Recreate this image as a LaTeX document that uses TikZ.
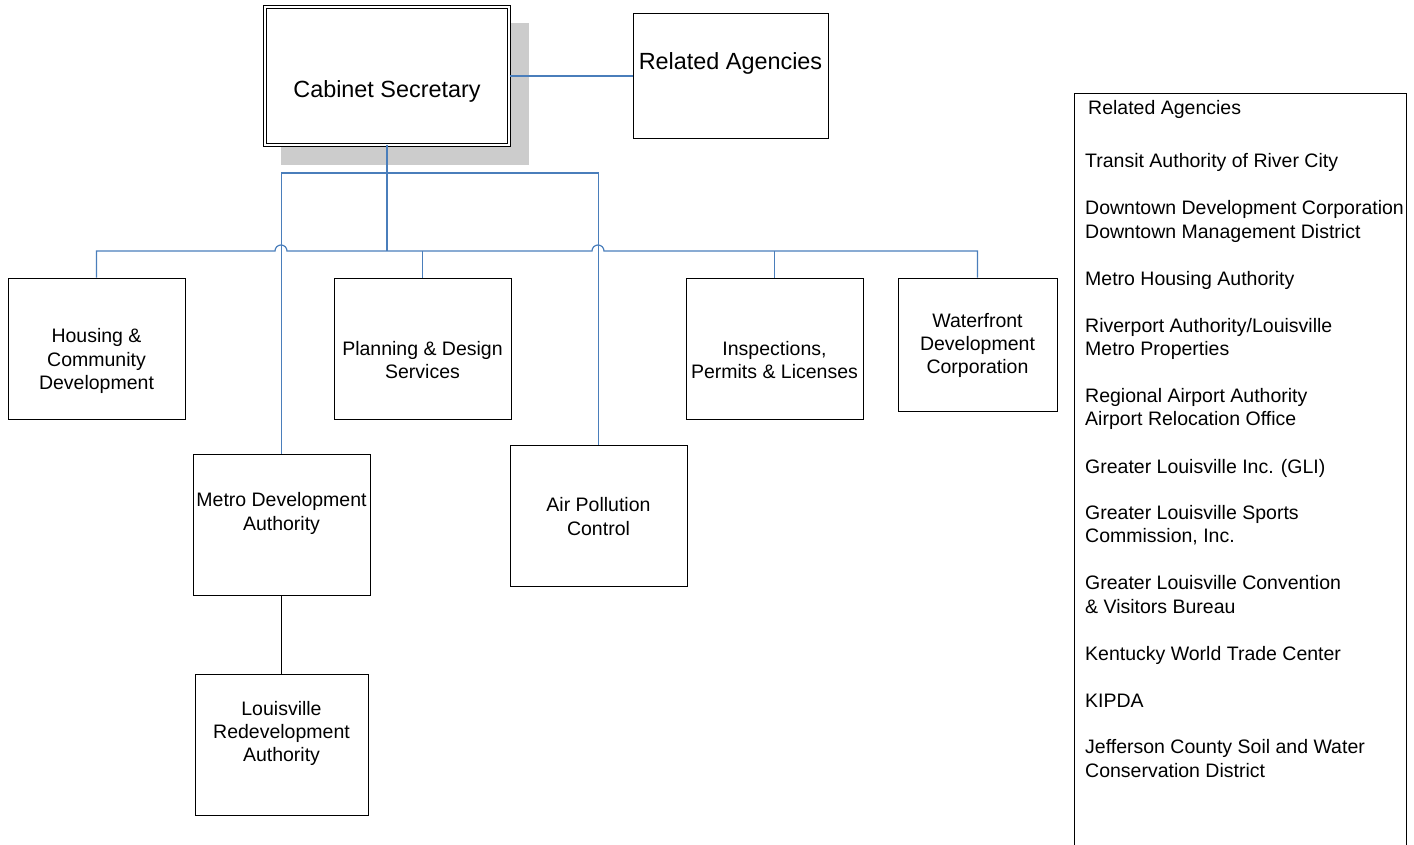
\documentclass[tikz,border=0pt]{standalone}
\usepackage{fontspec}
\setmainfont{Liberation Sans}
\definecolor{conn}{HTML}{4A7EBB}
\definecolor{shadowgray}{HTML}{CCCCCC}
\tikzset{
  box/.style={draw=black, line width=1pt, fill=white, inner sep=0pt},
  txt/.style={align=center, inner sep=0pt, font=\fontsize{19.5}{23.4}\selectfont},
  bigtxt/.style={align=center, inner sep=0pt, font=\fontsize{23.4}{28}\selectfont},
  ltxt/.style={anchor=base west, inner sep=0pt, align=left, font=\fontsize{19.5}{23.4}\selectfont},
  link/.style={draw=conn, line width=1.2pt},
  trunk/.style={draw=conn, line width=2pt},
}
\begin{document}
\begin{tikzpicture}[x=1pt,y=-1pt]
\useasboundingbox (0,0) rectangle (1414,845);
\clip (0,0) rectangle (1414,845);
% shadow of cabinet box
\fill[shadowgray] (281,23) rectangle (529,165);
% nodes
\node[box, double, double distance=2.5pt, minimum width=244, minimum height=138] (cab) at (387,76) {};
\node[bigtxt] (cabt) at (387,91) {Cabinet Secretary};
\node[box, minimum width=195, minimum height=125] (ra) at (730.5,76.5) {};
\node[bigtxt] (rat) at (730.5,63) {Related Agencies};

\node[box, minimum width=177, minimum height=141] (hcd) at (96.5,348.5) {};
\node[txt] (hcdt) at (96.5,361) {Housing \&\\Community\\Development};
\node[box, minimum width=177, minimum height=141] (pds) at (422.5,348.5) {};
\node[txt] (pdst) at (422.5,360) {Planning \& Design\\Services};
\node[box, minimum width=177, minimum height=141] (ipl) at (774.5,348.5) {};
\node[txt] (iplt) at (774.5,360) {Inspections,\\Permits \& Licenses};
\node[box, minimum width=159, minimum height=133] (wdc) at (977.5,344.5) {};
\node[txt] (wdct) at (977.5,345.5) {Waterfront\\Development\\Corporation};
\node[box, minimum width=177, minimum height=141] (mda) at (281.5,524.5) {};
\node[txt] (mdat) at (281.5,513.5) {Metro Development\\Authority};
\node[box, minimum width=177, minimum height=141] (apc) at (598.5,515.5) {};
\node[txt] (apct) at (598.5,516.5) {Air Pollution\\Control};
\node[box, minimum width=173, minimum height=141] (lra) at (281.5,744.5) {};
\node[txt] (lrat) at (281.5,733.5) {Louisville\\Redevelopment\\Authority};

% related agencies list box (extends below the page)
\node[box, minimum width=332, minimum height=820] (list) at (1240,504) {};
\node[ltxt] (l0) at (1088,115) {Related Agencies};
\node[ltxt] (l1) at (1085,168) {Transit Authority of River City};
\node[ltxt] (l2) at (1085,238.4) {Downtown Development Corporation\\Downtown Management District};
\node[ltxt] (l3) at (1085,285) {Metro Housing Authority};
\node[ltxt] (l4) at (1085,355.4) {Riverport Authority/Louisville\\Metro Properties};
\node[ltxt] (l5) at (1085,425.6) {Regional Airport Authority\\Airport Relocation Office};
\node[ltxt] (l6) at (1085,473) {Greater Louisville Inc. (GLI)};
\node[ltxt] (l7) at (1085,542.6) {Greater Louisville Sports\\Commission, Inc.};
\node[ltxt] (l8) at (1085,613.2) {Greater Louisville Convention\\\& Visitors Bureau};
\node[ltxt] (l9) at (1085,660) {Kentucky World Trade Center};
\node[ltxt] (l10) at (1085,707) {KIPDA};
\node[ltxt] (l11) at (1085,777.2) {Jefferson County Soil and Water\\Conservation District};

% connectors
\coordinate (bus) at (387,251);
\coordinate (bar) at (387,173);
\draw[link] (cab.east) -- (cab.east -| ra.west);
\draw[link] (mda.north) |- (bar) -| (apc.north);
\draw[link] (hcd.north) -- (hcd.north |- bus) -- (275,251) arc (180:360:6) -- (592,251) arc (180:360:6) -- (wdc.north |- bus) -- (wdc.north);
\draw[link] (pds.north) -- (pds.north |- bus);
\draw[link] (ipl.north) -- (ipl.north |- bus);
\draw[trunk] (cab.south) -- (bus);
\draw[black, line width=1pt] (mda.south) -- (lra.north);
\end{tikzpicture}
\end{document}
